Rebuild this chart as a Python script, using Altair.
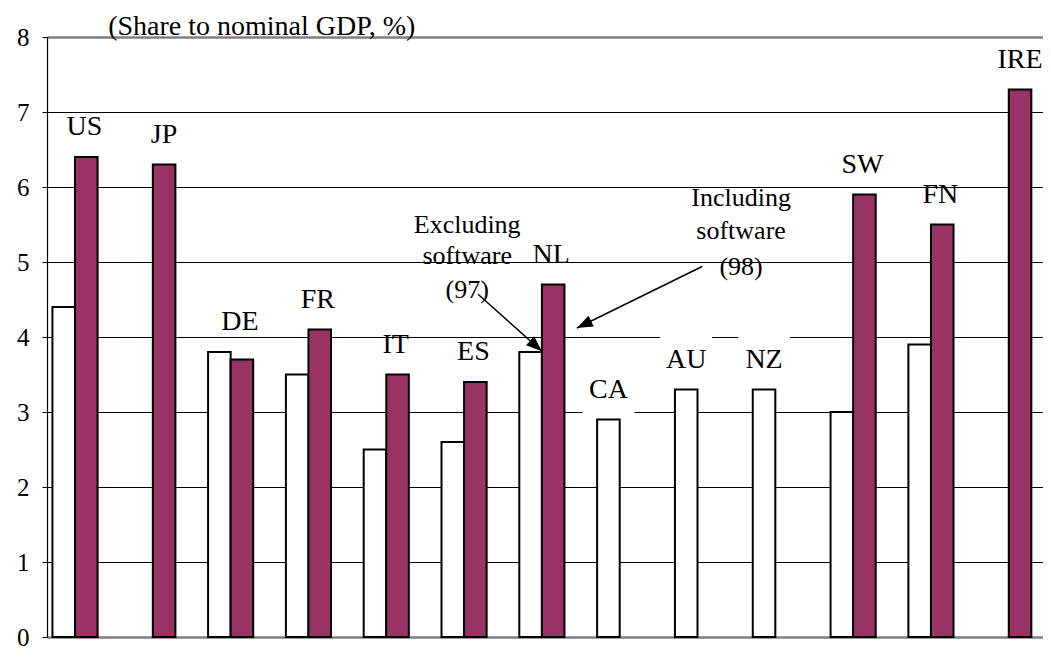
import math
import altair as alt
import pandas as pd

# ---------------- data ----------------
categories = ["US", "JP", "DE", "FR", "IT", "ES", "NL", "CA", "AU", "NZ", "SW", "FN", "IRE"]
excl_software_97 = [4.4, None, 3.8, 3.5, 2.5, 2.6, 3.8, 2.9, 3.3, 3.3, 3.0, 3.9, None]
incl_software_98 = [6.4, 6.3, 3.7, 4.1, 3.5, 3.4, 4.7, None, None, None, 5.9, 5.5, 7.3]
y_ticks = [0, 1, 2, 3, 4, 5, 6, 7, 8]
subtitle = "(Share to nominal GDP, %)"

annot_lines = ["Excluding", "software", "(97)", "Including", "software", "(98)"]
annot_x = [5.04, 5.04, 5.04, 8.56, 8.56, 8.56]
annot_y = [5.50, 5.08, 4.63, 5.86, 5.41, 4.94]

arrow_x = [5.18, 8.06]
arrow_y = [4.57, 4.94]
arrow_x2 = [6.00, 6.45]
arrow_y2 = [3.81, 4.12]

subtitle_x = 2.40
subtitle_y = 8

# ---------------- layout / style ----------------
W, H = 996, 600
X_DOM = [-0.36, 12.44]
Y_DOM = [0, 8]
BAR_W = 0.29
FONT = "Liberation Serif"
PURPLE = "#993366"

series_names = ["Excluding software (97)", "Including software (98)"]

rows = []
for i, c in enumerate(categories):
    if excl_software_97[i] is not None:
        rows.append({"cat": c, "series": series_names[0], "x0": i - BAR_W, "x1": i,
                     "value": excl_software_97[i]})
    if incl_software_98[i] is not None:
        rows.append({"cat": c, "series": series_names[1], "x0": i, "x1": i + BAR_W,
                     "value": incl_software_98[i]})
bars_df = pd.DataFrame(rows)

lab_rows = []
for i, c in enumerate(categories):
    a, b = excl_software_97[i], incl_software_98[i]
    if a is not None and b is not None:
        lx = i + 0.12
    elif a is not None:
        lx = i - BAR_W / 2
    else:
        lx = i + BAR_W / 2
    vals = [v for v in (a, b) if v is not None]
    lab_rows.append({"cat": c, "lx": lx, "ly": max(vals), "boxed": b is None})
labels_df = pd.DataFrame(lab_rows)

annot_df = pd.DataFrame({"text": annot_lines, "ax": annot_x, "ay": annot_y})

px_x = W / (X_DOM[1] - X_DOM[0])
px_y = H / (Y_DOM[1] - Y_DOM[0])
angles = []
for x1, y1, x2, y2 in zip(arrow_x, arrow_y, arrow_x2, arrow_y2):
    dx = (x2 - x1) * px_x
    ddown = -(y2 - y1) * px_y
    ang = math.degrees(math.atan2(dx, -ddown)) % 360
    angles.append(ang)
arrows_df = pd.DataFrame({"x": arrow_x, "y": arrow_y, "x2": arrow_x2, "y2": arrow_y2,
                          "angle": angles})

xs = alt.Scale(domain=X_DOM, nice=False, zero=False)
ys = alt.Scale(domain=Y_DOM, nice=False, zero=True)

grid_color = {"expr": "datum.value == 0 || datum.value == 8 ? '#808080' : '#000000'"}
grid_width = {"expr": "datum.value == 0 || datum.value == 8 ? 2.5 : 1"}

y_axis = alt.Axis(values=y_ticks, title=None, format="d", labelFont=FONT, labelFontSize=25,
                  labelColor="black", tickColor="black", tickSize=5,
                  domainColor="black", domainWidth=1.2, labelPadding=13,
                  grid=True, gridColor=grid_color, gridWidth=grid_width,
                  gridOpacity=1)

bars = alt.Chart(bars_df).mark_bar(stroke="black", strokeWidth=2).encode(
    x=alt.X("x0:Q", scale=xs, axis=None),
    x2="x1:Q",
    y=alt.Y("value:Q", scale=ys, axis=y_axis),
    y2=alt.datum(0),
    color=alt.Color("series:N", scale=alt.Scale(domain=series_names, range=["white", PURPLE]),
                    legend=None),
)

boxes = alt.Chart(labels_df).transform_filter("datum.boxed").mark_point(
    shape="square", filled=True, color="white", opacity=1, size=2700, yOffset=-30
).encode(
    x=alt.X("lx:Q", scale=xs, axis=None),
    y=alt.Y("ly:Q", scale=ys, title=None),
)

cat_labels = alt.Chart(labels_df).mark_text(
    font=FONT, fontSize=28, baseline="middle", align="center", dy=-30, color="black"
).encode(
    x=alt.X("lx:Q", scale=xs, axis=None),
    y=alt.Y("ly:Q", scale=ys, title=None),
    text="cat:N",
)

annots = alt.Chart(annot_df).mark_text(
    font=FONT, fontSize=26, baseline="middle", align="center", color="black"
).encode(
    x=alt.X("ax:Q", scale=xs, axis=None),
    y=alt.Y("ay:Q", scale=ys, title=None),
    text="text:N",
)

arrow_lines = alt.Chart(arrows_df).mark_rule(color="black", strokeWidth=1.5).encode(
    x=alt.X("x:Q", scale=xs, axis=None),
    y=alt.Y("y:Q", scale=ys, title=None),
    x2="x2:Q",
    y2="y2:Q",
)

arrow_heads = alt.Chart(arrows_df).mark_point(
    shape="M0,0L-0.38,1L0.38,1Z", filled=True, color="black", opacity=1, size=1000
).encode(
    x=alt.X("x2:Q", scale=xs, axis=None),
    y=alt.Y("y2:Q", scale=ys, title=None),
    angle=alt.Angle("angle:Q", scale=None),
)

sub = alt.Chart(pd.DataFrame({"t": [subtitle], "sx": [subtitle_x], "sy": [subtitle_y]})).mark_text(
    font=FONT, fontSize=28, baseline="alphabetic", align="center", dy=-2, color="black"
).encode(
    x=alt.X("sx:Q", scale=xs, axis=None),
    y=alt.Y("sy:Q", scale=ys, title=None),
    text="t:N",
)

chart = alt.layer(bars, boxes, cat_labels, annots, arrow_lines, arrow_heads, sub).properties(
    width=W, height=H,
    autosize=alt.AutoSizeParams(type="none"),
    padding={"left": 39, "top": 29, "right": 0, "bottom": 14},
    background="white",
).configure_view(stroke=None)

chart.save("out.html", embed_options={"renderer": "svg", "actions": False})
